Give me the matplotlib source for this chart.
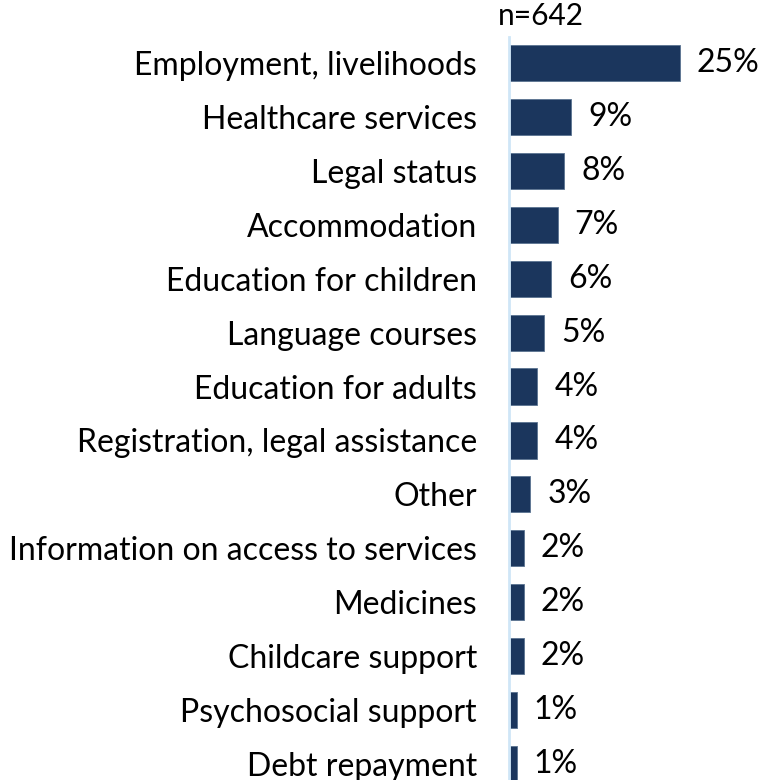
import matplotlib
matplotlib.use("Agg")
import matplotlib.pyplot as plt

plt.rcParams['font.family'] = ['Lato', 'DejaVu Sans']

categories = [
    "Employment, livelihoods",
    "Healthcare services",
    "Legal status",
    "Accommodation",
    "Education for children",
    "Language courses",
    "Education for adults",
    "Registration, legal assistance",
    "Other",
    "Information on access to services",
    "Medicines",
    "Childcare support",
    "Psychosocial support",
    "Debt repayment",
]
values = [25, 9, 8, 7, 6, 5, 4, 4, 3, 2, 2, 2, 1, 1]
sample_note = "n=642"

bar_color = "#1b365d"
axis_color = "#cfe6f7"

W, H = 761, 780
fig = plt.figure(figsize=(W / 100, H / 100), dpi=100)
# axes from the bar baseline to the right edge, under the n= note
ax = fig.add_axes([510 / W, 0, 251 / W, 743 / H])

y = list(range(len(categories)))
ax.barh(y, values, height=0.67, color=bar_color, edgecolor="#5a7391", linewidth=0.6)
ax.set_ylim(13.297, -0.482)
ax.set_xlim(0, 251 / 6.8)

for yi, v in zip(y, values):
    ax.text(v + 2.5, yi, f"{v}%", va="center", ha="left", fontsize=23, color="black")

ax.set_yticks(y)
ax.set_yticklabels(categories)
ax.tick_params(axis="y", length=0, pad=23, labelsize=23)
ax.set_xticks([])
for s in ["top", "right", "bottom"]:
    ax.spines[s].set_visible(False)
ax.spines["left"].set_color(axis_color)
ax.spines["left"].set_linewidth(2)
ax.spines["left"].set_position(("data", -0.15))

fig.text(541 / W, 1 - 16 / H, sample_note, ha="center", va="center", fontsize=21.5)

fig.savefig("out.png", dpi=100, facecolor="white")
